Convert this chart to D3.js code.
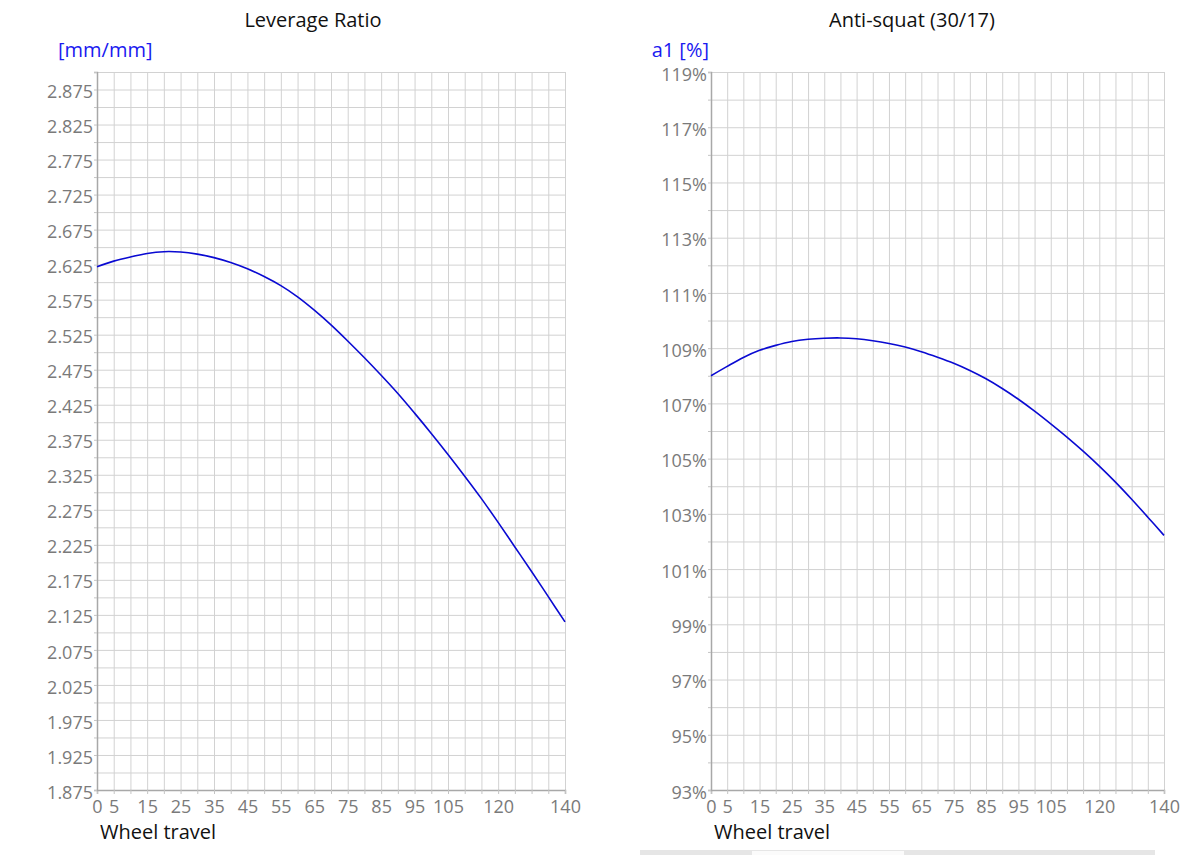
<!DOCTYPE html>
<html>
<head>
<meta charset="utf-8">
<script src="https://cdn.jsdelivr.net/npm/d3@7"></script>
<style>
  body { margin: 0; background: #fff; }
  svg { display: block; font-family: "Open Sans", sans-serif; }
</style>
</head>
<body>
<svg id="chart" width="1200" height="855"></svg>
<script>
// wheel travel positions (mm)
const travel = [0, 5, 10, 15, 20, 25, 30, 35, 40, 45, 50, 55, 60, 65, 70,
                75, 80, 85, 90, 95, 100, 105, 110, 115, 120, 125, 130, 135, 140];
// leverage ratio [mm/mm]
const leverage = [2.622, 2.630, 2.636, 2.641, 2.6435, 2.643, 2.640, 2.635, 2.628, 2.619,
                  2.608, 2.595, 2.579, 2.560, 2.539, 2.516, 2.492, 2.467, 2.441, 2.413,
                  2.384, 2.354, 2.323, 2.291, 2.257, 2.222, 2.187, 2.151, 2.115];
// anti-squat a1 [%]
const antiSquat = [108.0, 108.34, 108.66, 108.92, 109.10, 109.24, 109.32, 109.36, 109.37, 109.34,
                   109.27, 109.17, 109.04, 108.87, 108.67, 108.45, 108.19, 107.89, 107.54, 107.15,
                   106.72, 106.26, 105.78, 105.27, 104.73, 104.15, 103.53, 102.88, 102.22];

// tick labels
const travelTicks = [0, 5, 15, 25, 35, 45, 55, 65, 75, 85, 95, 105, 120, 140];
const leverageTicks = [1.875, 1.925, 1.975, 2.025, 2.075, 2.125, 2.175, 2.225, 2.275, 2.325, 2.375,
                       2.425, 2.475, 2.525, 2.575, 2.625, 2.675, 2.725, 2.775, 2.825, 2.875];
const antiSquatTicks = [93, 95, 97, 99, 101, 103, 105, 107, 109, 111, 113, 115, 117, 119];

const svg = d3.select('#chart');
const plotTop = 72, plotBottom = 790;
const font = '"Open Sans", sans-serif';

function drawPanel(p) {
  const g = svg.append('g');
  const x = d3.scaleLinear().domain([0, 140]).range([p.x0, p.x1]);
  const y = d3.scaleLinear().domain(p.yDomain).range([plotBottom, plotTop]);

  // vertical grid, every 5 mm
  const xGrid = d3.range(0, 141, 5);
  g.append('g')
    .attr('transform', `translate(0,${plotBottom})`)
    .call(d3.axisBottom(x).tickValues(xGrid).tickSizeInner(-(plotBottom - plotTop)).tickSizeOuter(0).tickFormat(''))
    .call(a => a.select('.domain').remove())
    .call(a => a.selectAll('line').attr('stroke', '#d2d2d2'));

  // horizontal grid
  const yGrid = d3.range(0, Math.round((p.yDomain[1] - p.yDomain[0]) / p.yStep) + 1)
    .map(i => p.yDomain[0] + i * p.yStep);
  g.append('g')
    .attr('transform', `translate(${p.x0},0)`)
    .call(d3.axisLeft(y).tickValues(yGrid).tickSizeInner(-(p.x1 - p.x0)).tickSizeOuter(0).tickFormat(''))
    .call(a => a.select('.domain').remove())
    .call(a => a.selectAll('line').attr('stroke', '#d2d2d2'));

  // small tick marks outside the axes
  g.append('g')
    .attr('transform', `translate(0,${plotBottom})`)
    .call(d3.axisBottom(x).tickValues(xGrid).tickSize(4).tickFormat(''))
    .call(a => a.select('.domain').attr('stroke', '#a8a8a8').attr('stroke-width', 1.5))
    .call(a => a.selectAll('line').attr('stroke', '#c4c4c4'));
  g.append('g')
    .attr('transform', `translate(${p.x0},0)`)
    .call(d3.axisLeft(y).tickValues(yGrid).tickSize(3).tickFormat(''))
    .call(a => a.select('.domain').attr('stroke', '#a8a8a8').attr('stroke-width', 1.5))
    .call(a => a.selectAll('line').attr('stroke', '#c4c4c4'));

  // x labels
  g.append('g')
    .attr('transform', `translate(0,${plotBottom})`)
    .call(d3.axisBottom(x).tickValues(travelTicks).tickSize(0).tickPadding(10))
    .attr('font-family', font).attr('font-size', 18)
    .call(a => a.select('.domain').remove())
    .call(a => a.selectAll('text').attr('fill', '#7a7a7a'));

  // y labels
  g.append('g')
    .attr('transform', `translate(${p.x0},0)`)
    .call(d3.axisLeft(y).tickValues(p.yTicks).tickSize(0).tickPadding(p.pad).tickFormat(p.fmt))
    .attr('font-family', font).attr('font-size', 18)
    .call(a => a.select('.domain').remove())
    .call(a => a.selectAll('text').attr('fill', '#7a7a7a').attr('dy', '0.45em'));

  // curve
  const line = d3.line()
    .x((d, i) => x(travel[i]))
    .y(d => y(d))
    .curve(d3.curveCatmullRom);
  g.append('path')
    .datum(p.values)
    .attr('fill', 'none')
    .attr('stroke', '#0a0ad2')
    .attr('stroke-width', 1.6)
    .attr('d', line);

  // titles
  g.append('text')
    .attr('x', p.titleX).attr('y', 27)
    .attr('text-anchor', 'middle')
    .attr('font-size', 20).attr('fill', '#111')
    .text(p.title);
  g.append('text')
    .attr('x', p.unitX).attr('y', 57)
    .attr('text-anchor', p.unitAnchor)
    .attr('font-size', 20).attr('fill', '#1a1af0')
    .text(p.unit);
  g.append('text')
    .attr('x', p.x0 + 3).attr('y', 839)
    .attr('font-size', 20).attr('fill', '#111')
    .text('Wheel travel');
}

drawPanel({
  x0: 97, x1: 565,
  yDomain: [1.875, 2.9], yStep: 0.025,
  yTicks: leverageTicks, fmt: d3.format('.3f'), pad: 4,
  values: leverage,
  title: 'Leverage Ratio', titleX: 313,
  unit: '[mm/mm]', unitX: 58, unitAnchor: 'start'
});

drawPanel({
  x0: 711, x1: 1164,
  yDomain: [93, 119], yStep: 1,
  yTicks: antiSquatTicks, fmt: d => d + '%', pad: 4,
  values: antiSquat,
  title: 'Anti-squat (30/17)', titleX: 912,
  unit: 'a1 [%]', unitX: 709, unitAnchor: 'end'
});

// strip at the bottom edge of the screenshot
svg.append('rect').attr('x', 640).attr('y', 850).attr('width', 515).attr('height', 5).attr('fill', '#e6e6e6');
svg.append('rect').attr('x', 752).attr('y', 851).attr('width', 152).attr('height', 4).attr('fill', '#fbfbfb');
</script>
</body>
</html>
